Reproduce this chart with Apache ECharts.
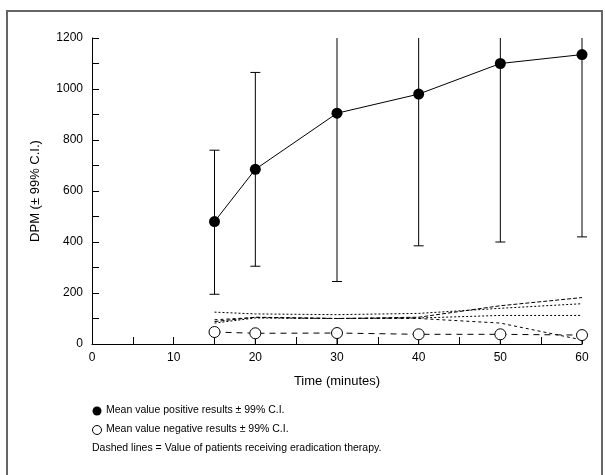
<!DOCTYPE html>
<html>
<head>
<meta charset="utf-8">
<script src="https://cdn.jsdelivr.net/npm/echarts@6/dist/echarts.min.js"></script>
<style>
  html, body { margin: 0; padding: 0; background: #fff; }
  #chart { width: 605px; height: 475px; }
</style>
</head>
<body>
<div id="chart"></div>
<script>
// time points (minutes)
const times = [15, 20, 30, 40, 50, 60];

// positive results: mean and 99% C.I.
const posMean = [480, 685, 905, 980, 1100, 1135];
const posLow = [195, 305, 245, 385, 400, 420];
const posHigh = [760, 1065, 1400, 1500, 1600, 1550];

// negative results: mean and 99% C.I.
const negMean = [47, 42, 43, 38, 38, 35];
const negLow = [0, 0, 0, 0, 0, 0];
const negHigh = [47, 42, 43, 38, 38, 35];

// patients receiving eradication therapy (dashed lines)
const patientA = [88, 105, 100, 105, 150, 182];
const patientB = [125, 118, 115, 120, 140, 158];
const patientC = [82, 102, 100, 102, 112, 112];
const patientD = [95, 104, 100, 100, 82, 16];

const xTickLabels = ['0', '10', '20', '30', '40', '50', '60'];
const yMax = 1200;

const legendLines = [
  'Mean value positive results \u00b1 99% C.I.',
  'Mean value negative results \u00b1 99% C.I.',
  'Dashed lines = Value of patients receiving eradication therapy.'
];

const FONT = 'Liberation Sans, Arial, sans-serif';

const chart = echarts.init(document.getElementById('chart'), null, { renderer: 'canvas' });

function pairs(ys) {
  return times.map((t, i) => [t, ys[i]]);
}

// vertical error bars, cut at the top of the axis (no cap when cut)
function errorBars(low, high) {
  return {
    type: 'custom',
    clip: false,
    z: 3,
    silent: true,
    renderItem: (params, api) => {
      const x = api.value(0);
      const loV = api.value(1);
      const hiV = api.value(2);
      const lo = api.coord([x, loV]);
      const hi = api.coord([x, Math.min(hiV, yMax)]);
      const half = 5;
      const style = { stroke: '#000', lineWidth: 1 };
      const children = [
        { type: 'line', shape: { x1: lo[0], y1: lo[1], x2: hi[0], y2: hi[1] }, style }
      ];
      if (loV > 0) children.push({ type: 'line', shape: { x1: lo[0] - half, y1: lo[1], x2: lo[0] + half, y2: lo[1] }, style });
      if (hiV <= yMax && hiV > loV) children.push({ type: 'line', shape: { x1: hi[0] - half, y1: hi[1], x2: hi[0] + half, y2: hi[1] }, style });
      return { type: 'group', children };
    },
    encode: { x: 0, y: [1, 2] },
    data: times.map((t, i) => [t, low[i], high[i]])
  };
}

function patientLine(ys, dash) {
  return {
    type: 'line',
    data: pairs(ys),
    symbol: 'none',
    z: 1,
    silent: true,
    lineStyle: { color: '#000', width: 1, type: dash }
  };
}

const textStyle = { fontFamily: FONT, fontSize: 10.5, fill: '#000' };

const option = {
  animation: false,
  backgroundColor: '#fff',
  grid: { left: 92, right: 23, top: 38, bottom: 131 },
  xAxis: {
    type: 'value',
    min: 0,
    max: 60,
    interval: 5,
    name: 'Time (minutes)',
    nameLocation: 'middle',
    nameGap: 31,
    nameTextStyle: { color: '#000', fontSize: 13, fontFamily: FONT },
    axisLine: { lineStyle: { color: '#000', width: 1 } },
    axisTick: { inside: true, length: 7, lineStyle: { color: '#000' } },
    axisLabel: {
      color: '#000', fontSize: 12, margin: 8, fontFamily: FONT,
      formatter: v => (xTickLabels.includes(String(v)) ? String(v) : '')
    },
    splitLine: { show: false }
  },
  yAxis: {
    type: 'value',
    min: 0,
    max: yMax,
    interval: 100,
    name: 'DPM (\u00b1 99% C.I.)',
    nameLocation: 'middle',
    nameGap: 50,
    nameTextStyle: { color: '#000', fontSize: 13, fontFamily: FONT },
    axisLine: { show: true, lineStyle: { color: '#000', width: 1 } },
    axisTick: { show: true, inside: true, length: 7, lineStyle: { color: '#000' } },
    axisLabel: {
      color: '#000', fontSize: 12, margin: 9, fontFamily: FONT,
      formatter: v => (v % 200 === 0 ? String(v) : '')
    },
    splitLine: { show: false }
  },
  series: [
    patientLine(patientA, [4, 2]),
    patientLine(patientB, [2, 2]),
    patientLine(patientC, [2, 2]),
    patientLine(patientD, [3, 3]),
    errorBars(negLow, negHigh),
    {
      type: 'line',
      data: pairs(negMean),
      z: 4,
      symbol: 'circle',
      symbolSize: 11,
      itemStyle: { color: '#fff', borderColor: '#000', borderWidth: 1 },
      lineStyle: { color: '#000', width: 1, type: [6, 5] }
    },
    errorBars(posLow, posHigh),
    {
      type: 'line',
      data: pairs(posMean),
      z: 5,
      symbol: 'circle',
      symbolSize: 11,
      itemStyle: { color: '#000', borderColor: '#000', borderWidth: 0 },
      lineStyle: { color: '#000', width: 1 }
    }
  ],
  graphic: [
    {
      type: 'rect',
      shape: { x: 7, y: 11, width: 595, height: 475 },
      style: { fill: 'none', stroke: '#666', lineWidth: 2 },
      silent: true
    },
    { type: 'circle', shape: { cx: 97, cy: 411, r: 4.5 }, style: { fill: '#000' } },
    { type: 'circle', shape: { cx: 97, cy: 430, r: 4.5 }, style: { fill: '#fff', stroke: '#000', lineWidth: 1 } },
    { type: 'text', left: 106, top: 405, style: Object.assign({ text: legendLines[0] }, textStyle) },
    { type: 'text', left: 106, top: 424, style: Object.assign({ text: legendLines[1] }, textStyle) },
    { type: 'text', left: 92, top: 443, style: Object.assign({ text: legendLines[2] }, textStyle) }
  ]
};

chart.setOption(option);
window.addEventListener('resize', () => chart.resize());
</script>
</body>
</html>
